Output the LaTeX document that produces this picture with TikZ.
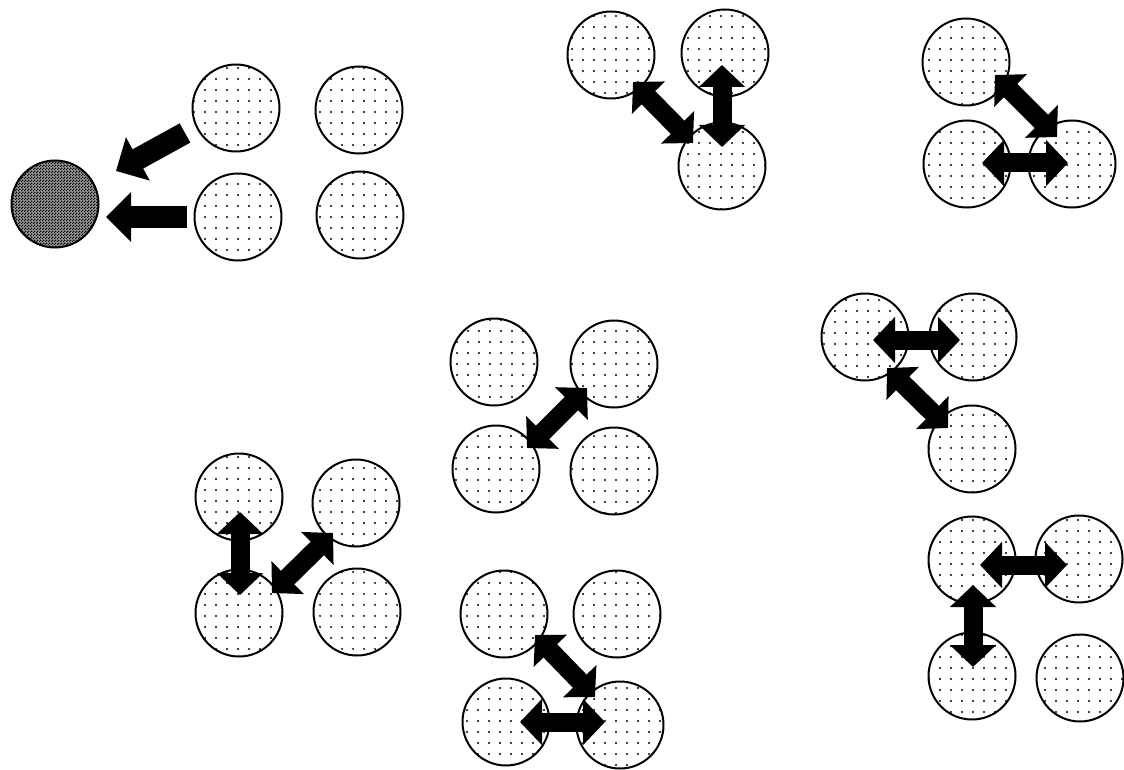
\documentclass[tikz,border=0pt]{standalone}
\usetikzlibrary{arrows.meta,patterns}
\pgfdeclarepatternformonly{sdots}{\pgfqpoint{0pt}{0pt}}{\pgfqpoint{10.5pt}{10.5pt}}{\pgfqpoint{10.5pt}{10.5pt}}{\pgfpathcircle{\pgfqpoint{5.25pt}{5.25pt}}{1.15pt}\pgfusepath{fill}}
\pgfdeclarepatternformonly{fchk}{\pgfqpoint{0pt}{0pt}}{\pgfqpoint{3pt}{3pt}}{\pgfqpoint{3pt}{3pt}}{\pgfpathrectangle{\pgfqpoint{0pt}{0pt}}{\pgfqpoint{1.5pt}{1.5pt}}\pgfpathrectangle{\pgfqpoint{1.5pt}{1.5pt}}{\pgfqpoint{1.5pt}{1.5pt}}\pgfusepath{fill}}
\tikzset{
  ball/.style={circle, draw=black, line width=2pt, minimum size=87pt, inner sep=0pt, fill=white, postaction={pattern=sdots}},
  darkball/.style={circle, draw=black, line width=2pt, minimum size=87pt, inner sep=0pt, fill=black!40, postaction={pattern=fchk}},
  dblarrow/.style={line width=19pt, {Triangle[width=45pt,length=22pt]}-{Triangle[width=45pt,length=22pt]}},
  sglarrow/.style={line width=22pt, -{Triangle[width=48pt,length=25pt]}}
}
\begin{document}
\begin{tikzpicture}[x=1pt,y=-1pt]
\useasboundingbox (0,0) rectangle (1124,770);
\fill[white] (0,0) rectangle (1124,770);
% top-left group
\node[darkball] (dk) at (55,204) {};
\node[ball] (a1) at (236,108) {};
\node[ball] (a2) at (359,110) {};
\node[ball] (a3) at (238,217) {};
\node[ball] (a4) at (360,215) {};
% top-middle group
\node[ball] (b1) at (611,55) {};
\node[ball] (b2) at (725,53) {};
\node[ball] (b3) at (722,166) {};
% top-right group
\node[ball] (c1) at (966,62) {};
\node[ball] (c2) at (967,164) {};
\node[ball] (c3) at (1072,164) {};
% middle-center group
\node[ball] (d1) at (494,362) {};
\node[ball] (d2) at (614,364) {};
\node[ball] (d3) at (496,469) {};
\node[ball] (d4) at (614,471) {};
% middle-right group
\node[ball] (e1) at (865,337) {};
\node[ball] (e2) at (973,337) {};
\node[ball] (e3) at (972,449) {};
% bottom-left group
\node[ball] (f1) at (239,497) {};
\node[ball] (f2) at (356,503) {};
\node[ball] (f3) at (239,613) {};
\node[ball] (f4) at (357,612) {};
% bottom-middle group
\node[ball] (g1) at (504,614) {};
\node[ball] (g2) at (617,614) {};
\node[ball] (g3) at (506,722) {};
\node[ball] (g4) at (620,725) {};
% bottom-right group
\node[ball] (h1) at (972,560) {};
\node[ball] (h2) at (1079,559) {};
\node[ball] (h3) at (972,676) {};
\node[ball] (h4) at (1080,678) {};
% arrow end points
\coordinate (a1s) at (185,133); \coordinate (dkd) at (116,171);
\coordinate (a3s) at (187,217); \coordinate (dkh) at (106,217);
\coordinate (b1p) at (633,82);  \coordinate (b3p) at (693,143);
\coordinate (b2p) at (722,65);  \coordinate (b3q) at (722,147);
\coordinate (c1p) at (995,75);  \coordinate (c3p) at (1057,137);
\coordinate (c2p) at (982,163); \coordinate (c3q) at (1068,163);
\coordinate (d3p) at (527,448); \coordinate (d2p) at (587,388);
\coordinate (e1p) at (873,340); \coordinate (e2p) at (960,340);
\coordinate (e1q) at (887,368); \coordinate (e3p) at (948,428);
\coordinate (f1p) at (240,512); \coordinate (f3p) at (240,595);
\coordinate (f3q) at (272,593); \coordinate (f2p) at (333,533);
\coordinate (g1p) at (535,635); \coordinate (g4p) at (595,697);
\coordinate (g3p) at (520,722); \coordinate (g4q) at (605,722);
\coordinate (h1p) at (980,565); \coordinate (h2p) at (1067,565);
\coordinate (h1q) at (973,585); \coordinate (h3p) at (973,667);
% arrows
\draw[sglarrow] (a1s) -- (dkd);
\draw[sglarrow] (a3s) -- (dkh);
\draw[dblarrow] (b1p) -- (b3p);
\draw[dblarrow] (b2p) -- (b3q);
\draw[dblarrow] (c1p) -- (c3p);
\draw[dblarrow] (c2p) -- (c3q);
\draw[dblarrow] (d3p) -- (d2p);
\draw[dblarrow] (e1p) -- (e2p);
\draw[dblarrow] (e1q) -- (e3p);
\draw[dblarrow] (f1p) -- (f3p);
\draw[dblarrow] (f3q) -- (f2p);
\draw[dblarrow] (g1p) -- (g4p);
\draw[dblarrow] (g3p) -- (g4q);
\draw[dblarrow] (h1p) -- (h2p);
\draw[dblarrow] (h1q) -- (h3p);
\end{tikzpicture}
\end{document}
